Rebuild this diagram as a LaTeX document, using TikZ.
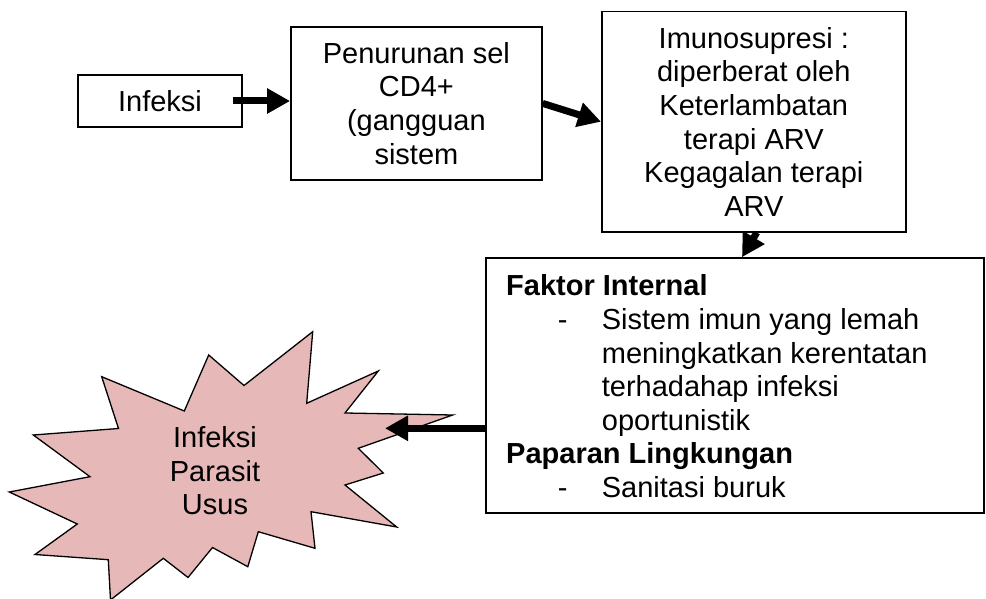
\documentclass[tikz,border=0pt]{standalone}
\usepackage{fontspec}
\setmainfont{Liberation Sans}
\usetikzlibrary{arrows.meta}
\definecolor{burstpink}{HTML}{E6B8B7}
\begin{document}
\begin{tikzpicture}[x=1pt,y=-1pt,
  every node/.style={font=\fontsize{29}{33.6}\selectfont},
  box/.style={draw, line width=1.6pt, inner sep=0pt, align=center},
  flow/.style={line width=7pt, -{Triangle[length=23pt,width=24pt]}},
  burstline/.style={draw, line width=1.3pt, fill=burstpink},
]
\useasboundingbox (0,0) rectangle (986,599);

\node[box, minimum width=164pt, minimum height=52pt] (inf) at (160,101) {Infeksi};
\node[box, minimum width=251pt, minimum height=153pt] (pen) at (416.4,103.4) {Penurunan sel\\CD4+\\(gangguan\\sistem};
\node[box, minimum width=304pt, minimum height=220pt] (imu) at (753.8,121.7) {Imunosupresi :\\diperberat oleh\\Keterlambatan\\terapi ARV\\Kegagalan terapi\\ARV};
\node[box, minimum width=498pt, minimum height=255pt] (fak) at (735,385.5) {};
\node[anchor=north west, inner sep=0pt, align=left] (faktxt) at (506,274.6)
  {\textbf{Faktor Internal}\\
   \hspace*{51.7pt}\makebox[44pt][l]{-}Sistem imun yang lemah\\
   \hspace*{95.7pt}meningkatkan kerentatan\\
   \hspace*{95.7pt}terhadahap infeksi\\
   \hspace*{95.7pt}oportunistik\\
   \textbf{Paparan Lingkungan}\\
   \hspace*{51.7pt}\makebox[44pt][l]{-}Sanitasi buruk};

\path[burstline] (101.7,376.7) -- (118.5,428.5) -- (33.3,435) -- (90,476.7) -- (9.3,492)
  -- (77.3,524) -- (35,554.5) -- (108.3,559.7) -- (110.5,600) -- (163.3,558.3)
  -- (188,577.5) -- (212.5,547.5) -- (247.8,566.7) -- (258.3,531.7) -- (315,548.3)
  -- (311,511.7) -- (396.7,527) -- (345,485) -- (383.3,473) -- (358.3,448.3)
  -- (452.7,415) -- (345,413) -- (378.3,371) -- (306.7,403.3) -- (312.7,331.7)
  -- (244,385.5) -- (208.7,355) -- (184.3,411) -- cycle;
\node[align=center, inner sep=0pt] (burst) at (215,471) {Infeksi\\Parasit\\Usus};

\coordinate (bin) at (385,428.3);
\draw[flow] (fak.west |- bin) -- (bin);
\draw[flow] ([xshift=-10pt]inf.east) -- (inf.east -| pen.west);
\draw[flow] (pen.east) -- (imu.west);
\draw[flow] ([xshift=3pt]imu.south) -- ([xshift=7pt]fak.north);
\end{tikzpicture}
\end{document}
